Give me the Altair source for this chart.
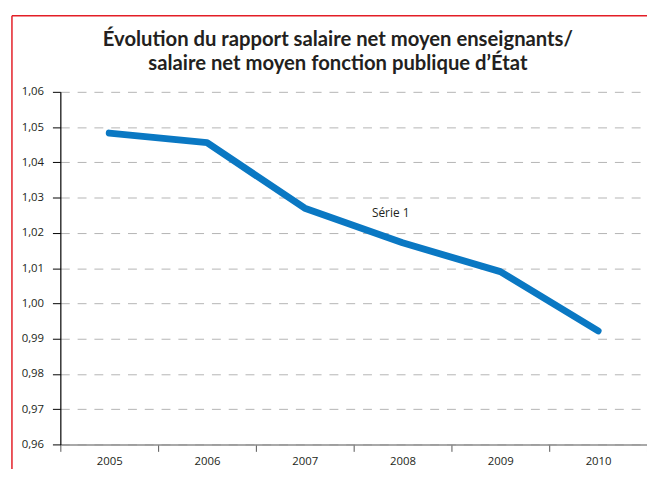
import altair as alt
import pandas as pd

years = ["2005", "2006", "2007", "2008", "2009", "2010"]
values = [1.0483, 1.0456, 1.0270, 1.0172, 1.0090, 0.9922]
y_ticks = [0.96, 0.97, 0.98, 0.99, 1.00, 1.01, 1.02, 1.03, 1.04, 1.05, 1.06]
series_name = "Série 1"
title_lines = ["Évolution du rapport salaire net moyen enseignants/",
               "salaire net moyen fonction publique d’État"]

df = pd.DataFrame({"annee": years, "valeur": values})
txt = "#231f20"

base = alt.Chart(df)

line = base.mark_line(color="#0a78c3", strokeWidth=7, strokeCap="round", strokeJoin="round").encode(
    x=alt.X("annee:N", title=None, sort=years,
            scale=alt.Scale(paddingInner=0, paddingOuter=0),
            axis=alt.Axis(labelAngle=0, tickBand="extent", domainColor="#8c8c8c", domainWidth=1.5,
                          tickColor="#555555", tickSize=7, labelPadding=4, labelFontSize=11.5,
                          labelFont="Open Sans", labelColor=txt, grid=False)),
    y=alt.Y("valeur:Q", title=None,
            scale=alt.Scale(domain=[0.96, 1.06], nice=False, zero=False),
            axis=alt.Axis(values=y_ticks, tickCount=11, labelOverlap=False,
                          labelExpr="replace(format(datum.value, '.2f'), '.', ',')",
                          domainColor="#000000", domainWidth=1.2, tickColor="#000000", tickSize=8,
                          labelPadding=9, labelFontSize=11.5, labelFont="Open Sans", labelColor=txt,
                          grid=True, gridColor="#b4b4b4", gridDash=[9, 8], gridWidth=1)),
)

label = alt.Chart(pd.DataFrame({"annee": ["2008"], "valeur": [1.0255], "t": [series_name]})).mark_text(
    fontSize=12, font="Open Sans", color=txt, dx=-12).encode(
    x=alt.X("annee:N", sort=years), y="valeur:Q", text="t:N")

title1 = alt.Chart(pd.DataFrame({"t": [title_lines[0]]})).mark_text(
    fontSize=20.5, font="Lato", fontWeight="bold", color=txt, align="center", baseline="middle").encode(
    x=alt.value(281), y=alt.value(-52), text="t:N")
title2 = alt.Chart(pd.DataFrame({"t": [title_lines[1]]})).mark_text(
    fontSize=20.5, font="Lato", fontWeight="bold", color=txt, align="center", baseline="middle").encode(
    x=alt.value(281), y=alt.value(-28), text="t:N")

border_data = alt.Data(values=[{"a": 1}])
top_rule = alt.Chart(border_data).mark_rule(color="#e31e26", strokeWidth=1.5).encode(
    x=alt.value(-49), x2=alt.value(700), y=alt.value(-77))
left_rule = alt.Chart(border_data).mark_rule(color="#e31e26", strokeWidth=1.5).encode(
    x=alt.value(-49), y=alt.value(-77), y2=alt.value(500))

chart = alt.layer(line, label, title1, title2, top_rule, left_rule).properties(
    width=594, height=357,
    autosize=alt.AutoSizeParams(type="none"),
    padding={"left": 53, "top": 82, "right": 0, "bottom": 22},
).configure_view(stroke=None)

chart.save("out.html", embed_options={"renderer": "svg", "actions": False})
